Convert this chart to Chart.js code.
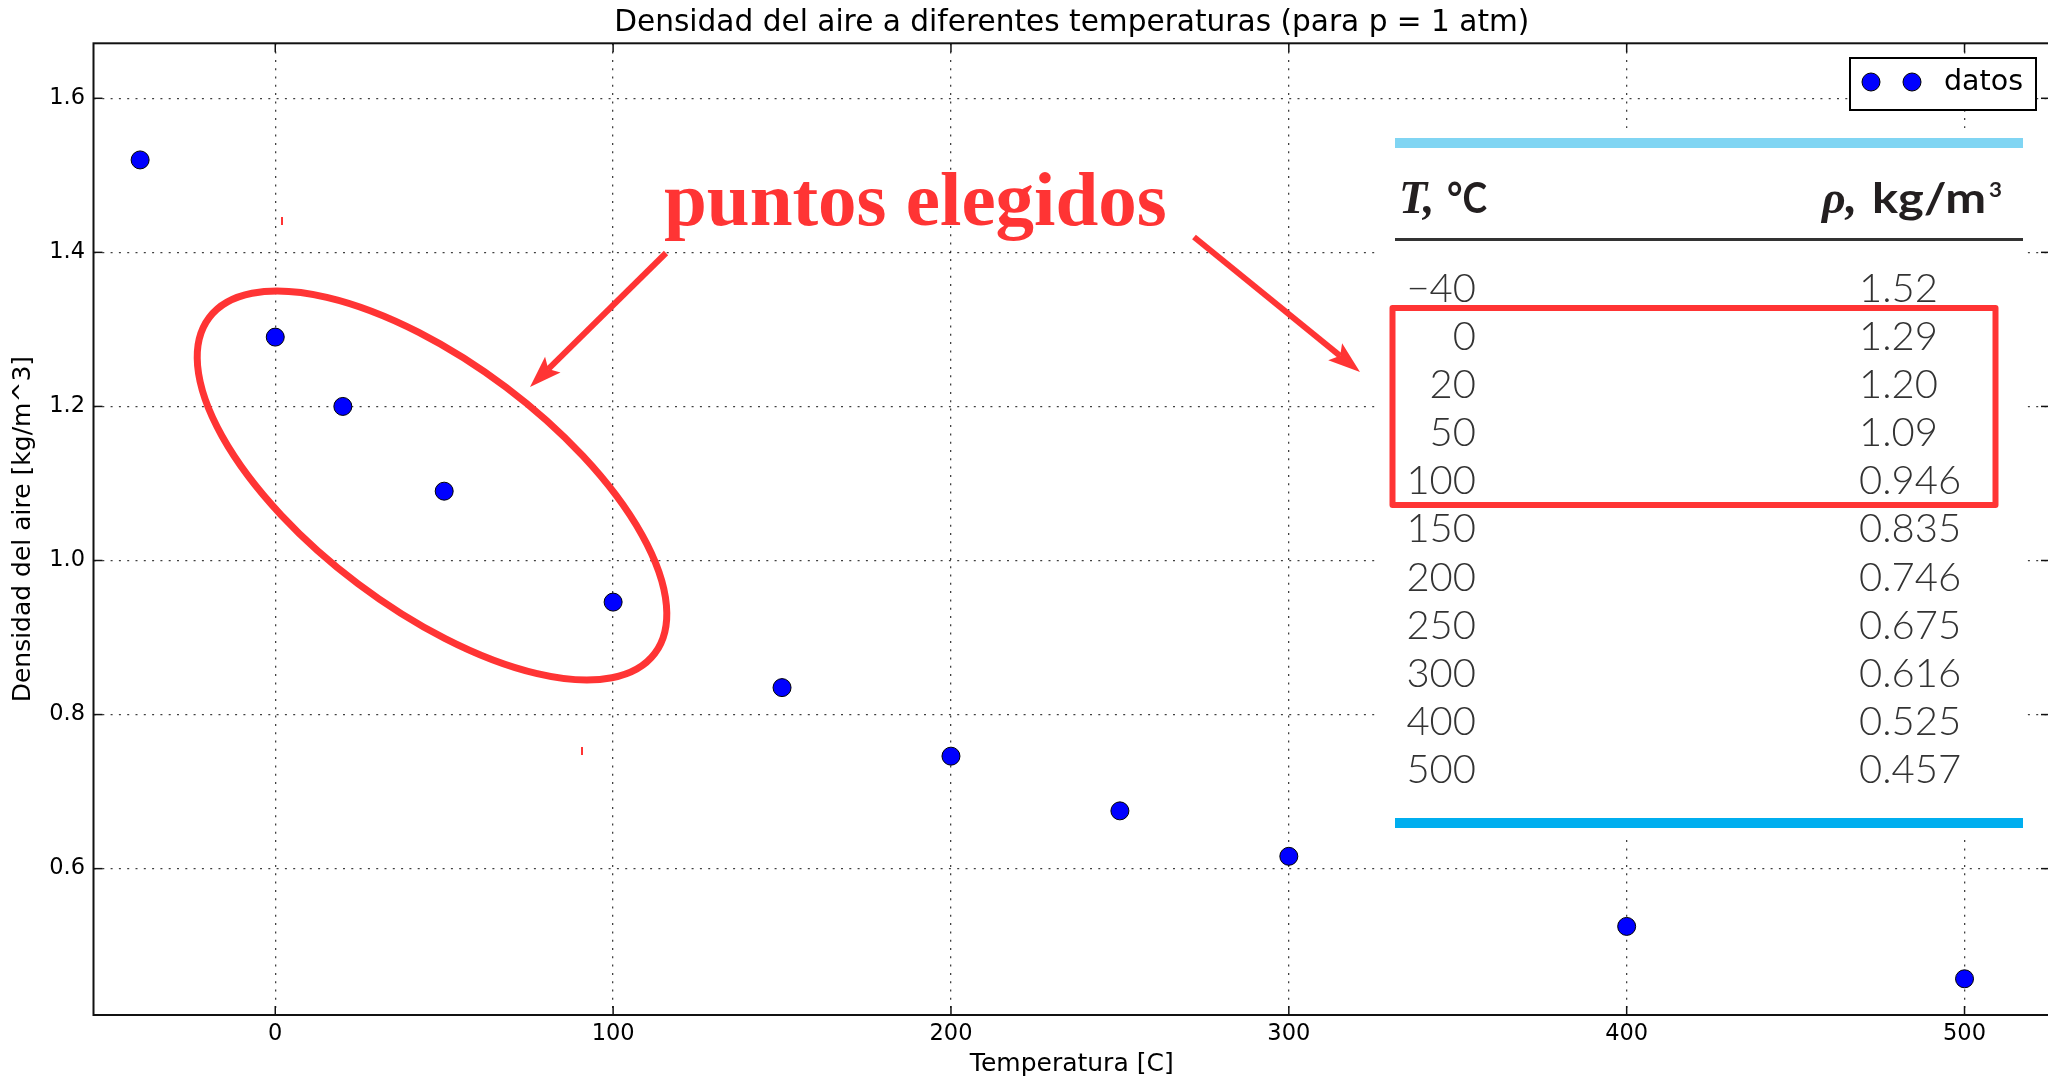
<!DOCTYPE html>
<html>
<head>
<meta charset="utf-8">
<script src="https://cdn.jsdelivr.net/npm/chart.js@4.4.0/dist/chart.umd.min.js"></script>
<style>
  html, body { margin: 0; padding: 0; background: #fff; overflow: hidden; }
  #wrap { width: 2048px; height: 1079px; overflow: hidden; position: relative; }
  canvas { display: block; }
</style>
</head>
<body>
<div id="wrap"><canvas id="density-chart" width="2060" height="1079"></canvas></div>
<script>
// datos: densidad del aire a p = 1 atm
const temperatures = [-40, 0, 20, 50, 100, 150, 200, 250, 300, 400, 500];
const densities = [1.52, 1.29, 1.20, 1.09, 0.946, 0.835, 0.746, 0.675, 0.616, 0.525, 0.457];
const xTicks = [0, 100, 200, 300, 400, 500];
const yTicks = [0.6, 0.8, 1.0, 1.2, 1.4, 1.6];

const TITLE = 'Densidad del aire a diferentes temperaturas (para p = 1 atm)';
const RED = '#ff3434';
const tickFont = { family: 'DejaVu Sans', size: 22.5 };
const labelFont = { family: 'DejaVu Sans', size: 25 };

const line = (ctx, x1, y1, x2, y2) => {
    ctx.beginPath(); ctx.moveTo(x1, y1); ctx.lineTo(x2, y2); ctx.stroke();
};

// texto ajustado a un ancho dado (cabecera de la tabla)
const fitText = (ctx, text, x, y, width) => {
    const w = ctx.measureText(text).width;
    ctx.save();
    ctx.translate(x, y);
    ctx.scale(width / w, 1);
    ctx.fillText(text, 0, 0);
    ctx.restore();
};

const drawArrow = (ctx, x1, y1, x2, y2) => {
    const ang = Math.atan2(y2 - y1, x2 - x1);
    const len = 32, half = 11;
    const bx = x2 - Math.cos(ang) * len * 0.8, by = y2 - Math.sin(ang) * len * 0.8;
    ctx.lineWidth = 6;
    line(ctx, x1, y1, bx, by);
    const cx = x2 - Math.cos(ang) * len, cy = y2 - Math.sin(ang) * len;
    ctx.beginPath();
    ctx.moveTo(x2, y2);
    ctx.lineTo(cx + Math.sin(ang) * half, cy - Math.cos(ang) * half);
    ctx.lineTo(bx, by);
    ctx.lineTo(cx - Math.sin(ang) * half, cy + Math.cos(ang) * half);
    ctx.closePath();
    ctx.fill();
};

const dot = (ctx, x, y) => {
    ctx.beginPath(); ctx.arc(x, y, 9, 0, Math.PI * 2);
    ctx.fillStyle = '#0000ff'; ctx.fill();
    ctx.lineWidth = 1; ctx.strokeStyle = '#000'; ctx.stroke();
};

const fmtRho = v => (v >= 1 ? v.toFixed(2) : v.toFixed(3));
const fmtT = v => (v < 0 ? '\u2212' + Math.abs(v) : String(v));

const overlay = {
    id: 'overlay',
    afterDraw(chart) {
        const { ctx, chartArea: a, scales: { x, y } } = chart;
        ctx.save();

        // marco y marcas hacia dentro
        ctx.strokeStyle = '#111';
        ctx.lineWidth = 2;
        ctx.strokeRect(a.left, a.top, a.right - a.left, a.bottom - a.top);
        ctx.lineWidth = 1.5;
        xTicks.forEach(v => {
            const px = x.getPixelForValue(v);
            line(ctx, px, a.bottom, px, a.bottom - 9);
            line(ctx, px, a.top, px, a.top + 9);
        });
        yTicks.forEach(v => {
            const py = y.getPixelForValue(v);
            line(ctx, a.left, py, a.left + 9, py);
            line(ctx, a.right, py, a.right - 9, py);
        });

        // título
        ctx.fillStyle = '#000';
        ctx.font = '29.6px "DejaVu Sans"';
        ctx.textAlign = 'center';
        ctx.textBaseline = 'middle';
        ctx.fillText(TITLE, (a.left + a.right) / 2, 23);

        // leyenda
        ctx.fillStyle = '#fff';
        ctx.fillRect(1850, 58, 186, 52);
        ctx.strokeStyle = '#000'; ctx.lineWidth = 2;
        ctx.strokeRect(1850, 58, 186, 52);
        dot(ctx, 1871, 82);
        dot(ctx, 1912, 82);
        ctx.fillStyle = '#000';
        ctx.font = '28.5px "DejaVu Sans"';
        ctx.textAlign = 'left';
        ctx.fillText('datos', 1944, 83);

        // tabla
        ctx.fillStyle = '#fff';
        ctx.fillRect(1376, 128, 647, 712);
        ctx.fillStyle = '#80d5f3';
        ctx.fillRect(1395, 138, 628, 10);
        ctx.fillStyle = '#00aeef';
        ctx.fillRect(1395, 818, 628, 10);
        ctx.fillStyle = '#333';
        ctx.fillRect(1395, 238, 628, 3);

        ctx.textBaseline = 'alphabetic';
        ctx.textAlign = 'left';
        ctx.fillStyle = '#231f20';
        ctx.font = 'italic bold 46px "Liberation Serif"';
        ctx.fillText('T,', 1399, 213);
        ctx.fillText('\u03c1,', 1822, 213);
        ctx.font = 'bold 42px Lato';
        fitText(ctx, '\u00b0C', 1447, 213, 40);
        fitText(ctx, 'kg/m', 1872, 213, 114);
        ctx.font = 'bold 21px Lato';
        fitText(ctx, '3', 1989, 197, 13);

        ctx.fillStyle = '#333';
        ctx.font = '300 40px Lato';
        temperatures.forEach((t, i) => {
            const by = 301.7 + i * 48.15;
            ctx.textAlign = 'right';
            ctx.fillText(fmtT(t), 1476, by);
            ctx.textAlign = 'left';
            ctx.fillText(fmtRho(densities[i]), 1859, by);
        });

        // anotaciones en rojo
        ctx.strokeStyle = RED;
        ctx.fillStyle = RED;
        ctx.lineJoin = 'round';
        ctx.lineWidth = 6;
        ctx.strokeRect(1392.5, 308, 603, 197);

        ctx.lineWidth = 7;
        ctx.beginPath();
        ctx.ellipse(432, 485.5, 279, 123, 37 * Math.PI / 180, 0, Math.PI * 2);
        ctx.stroke();

        drawArrow(ctx, 666, 253, 530, 387);
        drawArrow(ctx, 1194, 237, 1360, 372);

        ctx.font = 'bold 77px "Liberation Serif"';
        ctx.textAlign = 'left';
        ctx.fillText('puntos elegidos', 664, 225);

        ctx.lineWidth = 2;
        line(ctx, 282, 217, 282, 225);
        line(ctx, 582, 747, 582, 755);

        ctx.restore();
    }
};

new Chart(document.getElementById('density-chart'), {
    type: 'scatter',
    data: {
        datasets: [{
            label: 'datos',
            data: temperatures.map((t, i) => ({ x: t, y: densities[i] })),
            pointRadius: 9,
            pointHoverRadius: 9,
            backgroundColor: '#0000ff',
            borderColor: '#000',
            borderWidth: 1
        }]
    },
    options: {
        responsive: false,
        animation: false,
        devicePixelRatio: 1,
        layout: { padding: { left: 0, top: 43.3, right: 8, bottom: 0 } },
        plugins: { legend: { display: false }, tooltip: { enabled: false } },
        scales: {
            x: {
                type: 'linear', position: 'bottom', min: -53.8, max: 525.3,
                afterBuildTicks: s => { s.ticks = xTicks.map(v => ({ value: v })); },
                afterFit: s => { s.height = 64; },
                ticks: { font: tickFont, color: '#000', padding: 6, maxRotation: 0, autoSkip: false, callback: v => String(v) },
                grid: { color: 'rgba(0,0,0,0.75)', lineWidth: 1.3, drawTicks: false },
                border: { display: false, dash: [2, 6.3] },
                title: { display: true, text: 'Temperatura [C]', font: labelFont, color: '#000', padding: { top: 0, bottom: 0 } }
            },
            y: {
                type: 'linear', position: 'left', min: 0.41, max: 1.6714,
                afterBuildTicks: s => { s.ticks = yTicks.map(v => ({ value: v })); },
                afterFit: s => { s.width = 93.5; },
                ticks: { font: tickFont, color: '#000', padding: 8.5, callback: v => v.toFixed(1) },
                grid: { color: 'rgba(0,0,0,0.75)', lineWidth: 1.3, drawTicks: false },
                border: { display: false, dash: [2, 6.3] },
                title: { display: true, text: 'Densidad del aire [kg/m^3]', font: labelFont, color: '#000', padding: { top: 8.5, bottom: 0 } }
            }
        }
    },
    plugins: [overlay]
});
</script>
</body>
</html>
